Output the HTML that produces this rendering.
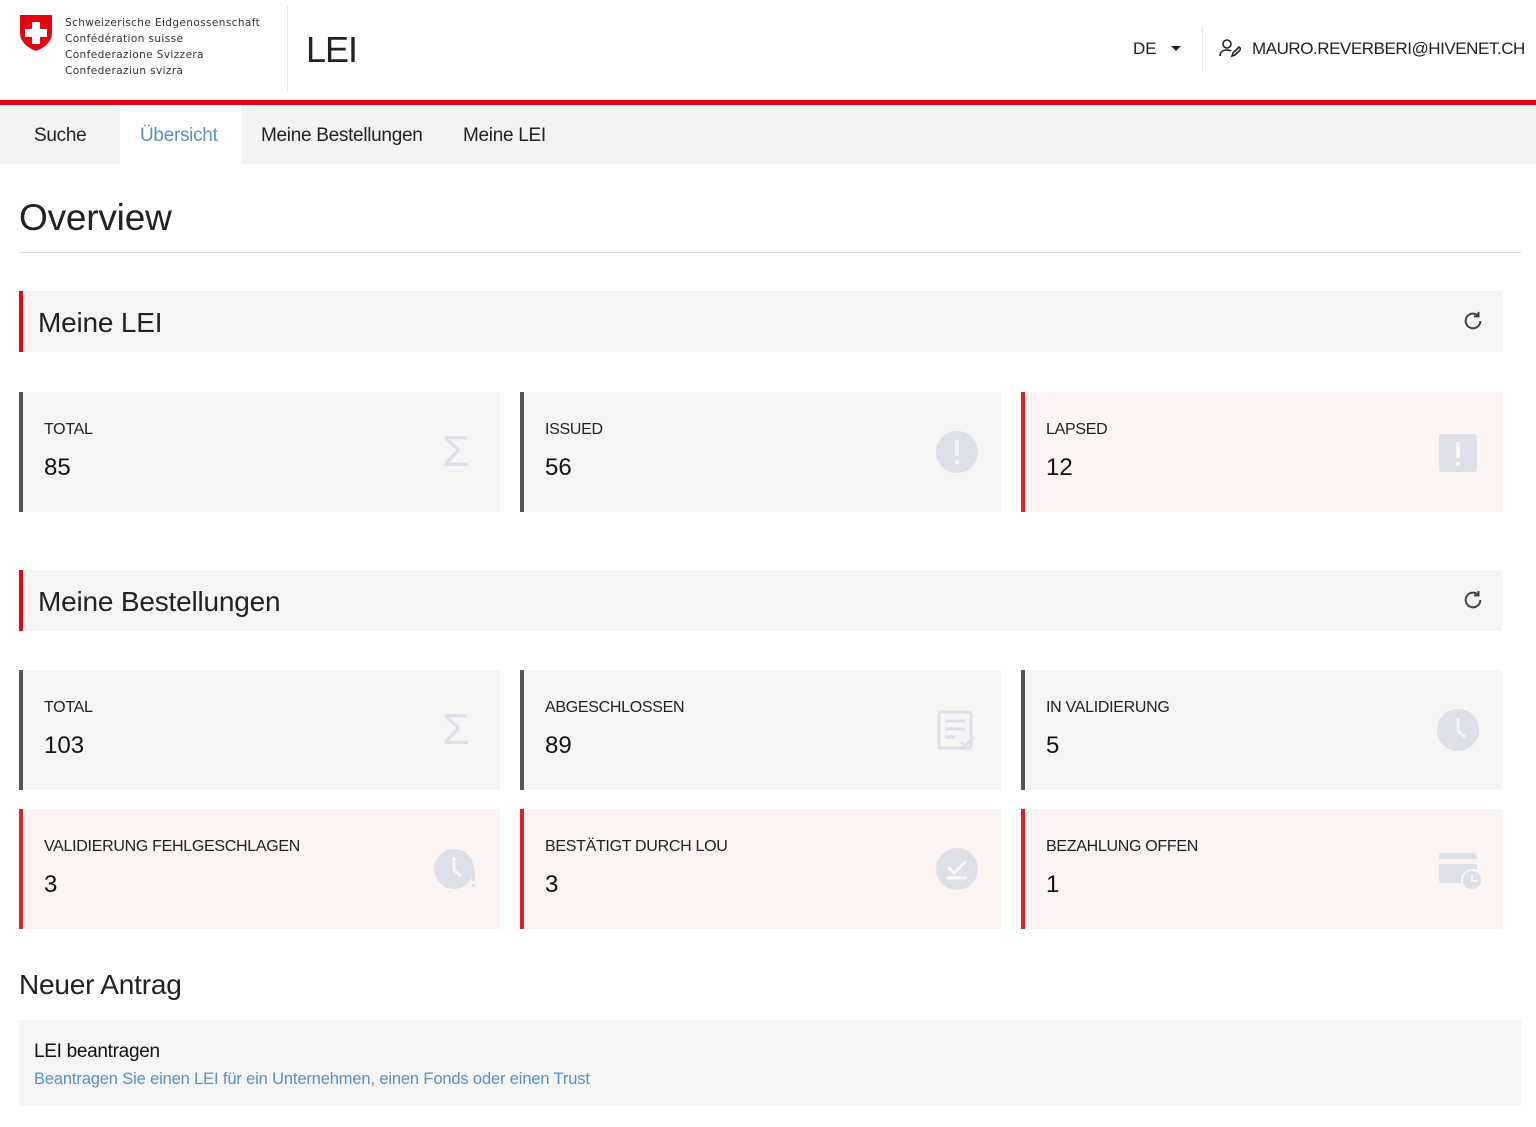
<!DOCTYPE html>
<html><head><meta charset="utf-8"><style>
*{margin:0;padding:0;box-sizing:border-box}
body{width:1536px;height:1127px;position:relative;overflow:hidden;background:#fff;font-family:"Liberation Sans",sans-serif;color:#222}
.a{position:absolute}
.card{position:absolute;width:481px;height:120px;background:#f5f5f5;border-left:4px solid #555}
.card.r{background:#fcf3f3;border-left-color:#d8232a}
.card .l{position:absolute;left:21px;top:29px;font-size:16px;color:#222;letter-spacing:-0.3px}
.card .v{position:absolute;left:21px;top:62px;font-size:24px;color:#111}
.ic{position:absolute;right:22px;top:38px;width:44px;height:44px}
.sec{position:absolute;left:19px;width:1483px;height:61px;background:#f5f5f5;border-left:4px solid #e30613}
.sec span{position:absolute;left:15px;top:16px;font-size:28px;color:#222;letter-spacing:-0.2px}
.sec svg{position:absolute;right:18px;top:19px}
.nav{font-size:19px;color:#222;top:125px;letter-spacing:-0.3px}
</style></head><body>
<svg class="a" style="left:19px;top:14px" width="34" height="38" viewBox="0 0 34 38"><path d="M1 1h32v18c0 9-8 15-16 18C9 34 1 28 1 19z" fill="#e30613"/><path d="M13 8h8v7h7v8h-7v7h-8v-7H6v-8h7z" fill="#fff"/></svg>
<div class="a" style="left:65px;top:15px;font-family:'DejaVu Sans',sans-serif;font-size:10.5px;line-height:16px;color:#333;letter-spacing:0.4px">Schweizerische Eidgenossenschaft<br>Confédération suisse<br>Confederazione Svizzera<br>Confederaziun svizra</div>
<div class="a" style="left:287px;top:6px;width:1px;height:85px;background:#e5e5e5"></div>
<div class="a" style="left:306px;top:29px;font-size:36px;color:#222;letter-spacing:-1px">LEI</div>
<div class="a" style="left:1133px;top:39px;font-size:17px">DE</div>
<div class="a" style="left:1171px;top:46px;width:0;height:0;border-left:5px solid transparent;border-right:5px solid transparent;border-top:5px solid #222"></div>
<div class="a" style="left:1202px;top:26px;width:1px;height:45px;background:#e5e5e5"></div>
<svg class="a" style="left:1219px;top:38px" width="22" height="20" viewBox="0 0 22 20" fill="none" stroke="#222" stroke-width="1.6"><circle cx="8" cy="6" r="4"/><path d="M1 18c0-4 3-6 7-6 2 0 3 .3 4 1"/><path d="M13 18l1-3 6-6 2 2-6 6z"/></svg>
<div class="a" style="left:1252px;top:39px;font-size:17px;letter-spacing:-0.45px">MAURO.REVERBERI@HIVENET.CH</div>
<div class="a" style="left:0;top:100px;width:1536px;height:5px;background:#e30613"></div>
<div class="a" style="left:0;top:105px;width:1536px;height:59px;background:#f3f3f3"></div>
<div class="a" style="left:120px;top:105px;width:122px;height:59px;background:#fff"></div>
<div class="a nav" style="left:34px">Suche</div>
<div class="a nav" style="left:140px;color:#5b8fbf">Übersicht</div>
<div class="a nav" style="left:261px">Meine Bestellungen</div>
<div class="a nav" style="left:463px">Meine LEI</div>
<div class="a" style="left:19px;top:197px;font-size:37px;color:#222;letter-spacing:-0.2px">Overview</div>
<div class="a" style="left:19px;top:252px;width:1502px;height:1px;background:#ddd"></div>

<div class="sec" style="top:291px"><span>Meine LEI</span><svg width="22" height="22" viewBox="0 0 24 24" fill="none" stroke="#444" stroke-width="2.2"><path d="M20 12a8 8 0 1 1-3-6.3"/><path d="M18 2v5h-5" /></svg></div>

<div class="card" style="left:19px;top:392px"><div class="l">TOTAL</div><div class="v">85</div><div class="ic" style="font-size:44px;color:#dde0e8;line-height:44px;text-align:center">Σ</div></div>
<div class="card" style="left:520px;top:392px"><div class="l">ISSUED</div><div class="v">56</div><svg class="ic" viewBox="0 0 44 44"><circle cx="22" cy="22" r="21" fill="#dde0e8"/><rect x="20" y="10" width="4" height="16" fill="#f5f5f5"/><rect x="20" y="30" width="4" height="4" fill="#f5f5f5"/></svg></div>
<div class="card r" style="left:1021px;top:392px"><div class="l">LAPSED</div><div class="v">12</div><svg class="ic" viewBox="0 0 44 44"><rect x="3" y="4" width="38" height="38" rx="3" fill="#dde0e8"/><rect x="20" y="12" width="4" height="16" fill="#fcf3f3"/><rect x="20" y="32" width="4" height="4" fill="#fcf3f3"/></svg></div>

<div class="sec" style="top:570px"><span>Meine Bestellungen</span><svg width="22" height="22" viewBox="0 0 24 24" fill="none" stroke="#444" stroke-width="2.2"><path d="M20 12a8 8 0 1 1-3-6.3"/><path d="M18 2v5h-5" /></svg></div>

<div class="card" style="left:19px;top:670px"><div class="l">TOTAL</div><div class="v">103</div><div class="ic" style="font-size:44px;color:#dde0e8;line-height:44px;text-align:center">Σ</div></div>
<div class="card" style="left:520px;top:670px"><div class="l">ABGESCHLOSSEN</div><div class="v">89</div><svg class="ic" viewBox="0 0 44 44" fill="none" stroke="#dde0e8" stroke-width="3"><rect x="4" y="4" width="32" height="36" rx="2"/><path d="M10 13h20M10 21h20M10 29h10M26 34l4 4 8-8"/></svg></div>
<div class="card" style="left:1021px;top:670px"><div class="l">IN VALIDIERUNG</div><div class="v">5</div><svg class="ic" viewBox="0 0 44 44"><circle cx="22" cy="22" r="21" fill="#dde0e8"/><path d="M22 10v13l7 6" stroke="#f5f5f5" stroke-width="3" fill="none"/></svg></div>

<div class="card r" style="left:19px;top:809px"><div class="l">VALIDIERUNG FEHLGESCHLAGEN</div><div class="v">3</div><svg class="ic" viewBox="0 0 44 44"><circle cx="20" cy="22" r="20" fill="#dde0e8"/><path d="M20 10v13l7 6" stroke="#fcf3f3" stroke-width="3" fill="none"/><rect x="38" y="22" width="3" height="12" fill="#dde0e8"/><rect x="38" y="37" width="3" height="3" fill="#dde0e8"/></svg></div>
<div class="card r" style="left:520px;top:809px"><div class="l">BESTÄTIGT DURCH LOU</div><div class="v">3</div><svg class="ic" viewBox="0 0 44 44"><circle cx="22" cy="22" r="21" fill="#dde0e8"/><path d="M13 20l6 6 12-12M12 31h20" stroke="#fcf3f3" stroke-width="3" fill="none"/></svg></div>
<div class="card r" style="left:1021px;top:809px"><div class="l">BEZAHLUNG OFFEN</div><div class="v">1</div><svg class="ic" viewBox="0 0 44 44" style="width:48px;right:18px"><rect x="1" y="6" width="38" height="30" rx="3" fill="#dde0e8"/><rect x="1" y="12" width="38" height="5" fill="#fcf3f3"/><circle cx="34" cy="33" r="10" fill="#dde0e8" stroke="#fcf3f3" stroke-width="2"/><path d="M34 27v7h5" stroke="#fcf3f3" stroke-width="2" fill="none"/></svg></div>

<div class="a" style="left:19px;top:969px;font-size:28px;color:#222;letter-spacing:-0.2px">Neuer Antrag</div>
<div class="a" style="left:19px;top:1020px;width:1502px;height:86px;background:#f5f5f5"></div>
<div class="a" style="left:34px;top:1041px;font-size:19px;color:#111;letter-spacing:-0.3px">LEI beantragen</div>
<div class="a" style="left:34px;top:1070px;font-size:16.5px;color:#5b8fbf;letter-spacing:-0.15px">Beantragen Sie einen LEI für ein Unternehmen, einen Fonds oder einen Trust</div>
</body></html>
